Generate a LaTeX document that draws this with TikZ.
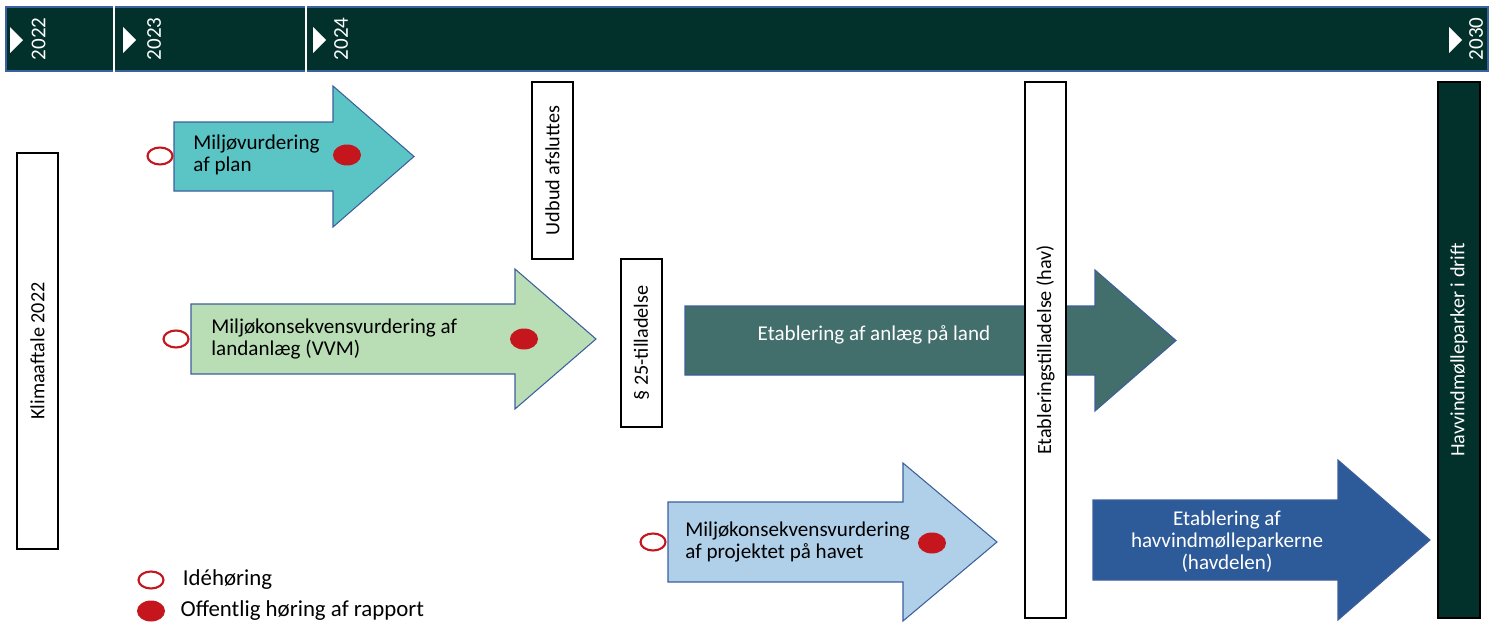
\documentclass[tikz,border=0pt]{standalone}
\usepackage{fontspec}
\setmainfont{Carlito}
\usetikzlibrary{%
	positioning,%
	shapes.geometric%
}

\definecolor{bargreen}{HTML}{02302A}
\definecolor{barblue}{HTML}{3A62A0}
\definecolor{arrowblue}{HTML}{3C5F9C}
\definecolor{planfill}{HTML}{5BC5C6}
\definecolor{vvmfill}{HTML}{B9DEB6}
\definecolor{landfill}{HTML}{426E6C}
\definecolor{havfill}{HTML}{B0D0E9}
\definecolor{havdelfill}{HTML}{2D5A98}
\definecolor{hred}{HTML}{C5161D}

\begin{document}
\begin{tikzpicture}[x=0.02cm,y=-0.02cm,
	yearbar/.style={draw=barblue, line width=0.6pt, fill=bargreen},
	yeartext/.style={text=white, rotate=90, inner sep=0, font=\fontsize{12}{12}\selectfont},
	milestone/.style={draw=black, line width=0.9pt, rotate=90, minimum height=0.82cm, inner sep=0, font=\fontsize{11.5}{12}\selectfont},
	blockarrow/.style={draw=arrowblue, line width=0.6pt},
	phasetext/.style={inner sep=0, align=left, font=\fontsize{12}{12.5}\selectfont},
	idea/.style={ellipse, draw=hred, line width=1.2pt, minimum width=0.5cm, minimum height=0.34cm, inner sep=0},
	hearing/.style={ellipse, fill=hred, minimum width=0.56cm, minimum height=0.42cm, inner sep=0},
	legendtext/.style={inner sep=0, font=\fontsize{13}{13}\selectfont}
]
	\useasboundingbox (0,0) rectangle (1499,622);
	
	% Year bar
	\draw[yearbar] (6,7) rectangle (1488,71);
	\foreach \xs in {114,306}
	\draw[white, line width=1.3pt] (\xs,6) -- (\xs,72);
	
	% Year markers
	\foreach \yr/\tx/\lx in {2022/10/38.5,2023/123/154,2024/313/341,2030/1449/1476}{
		\fill[white] (\tx,27) -- ({\tx+13},40) -- (\tx,53) -- cycle;
		\node[yeartext] (y\yr) at (\lx,39) {\yr};
	}
	
	% Phase arrows
	\foreach \xa/\ya/\yb/\xh/\ha/\xt/\col in {174/122/191/333/86/414/planfill,
		191/304/374/515/269/596/vvmfill,
		685/306/375/1095/270/1176/landfill,
		668/502/582/903/463/997/havfill,
		1093/500/580/1338/460/1430/havdelfill}
	\draw[blockarrow, fill=\col] (\xa,\ya) -- (\xh,\ya) -- (\xh,\ha) -- (\xt,{(\ya+\yb)/2})
		-- (\xh,{\ya+\yb-\ha}) -- (\xh,\yb) -- (\xa,\yb) -- cycle;
	
	% Phase texts
	\node[phasetext, anchor=west] (plan) at (193,155) {Miljøvurdering\\af plan};
	\node[phasetext, anchor=west] (vvm) at (211,339) {Miljøkonsekvensvurdering af\\landanlæg (VVM)};
	\node[phasetext, text=white] (land) at (874,335) {Etablering af anlæg på land};
	\node[phasetext, anchor=west] (havet) at (685,542) {Miljøkonsekvensvurdering\\af projektet på havet};
	\node[phasetext, text=white, align=center] (havdel) at (1227,542) {Etablering af\\havvindmølleparkerne\\(havdelen)};
	
	% Hearings
	\node[idea] (planidea) at (160,156) {};
	\node[hearing] (planhearing) at (347,155) {};
	\node[idea] (vvmidea) at (176,339) {};
	\node[hearing] (vvmhearing) at (524,339) {};
	\node[idea] (havetidea) at (653,542) {};
	\node[hearing] (havethearing) at (932,543) {};
	
	% Milestones
	\node[milestone, minimum width=7.92cm] (klima) at (37.5,351) {Klimaaftale 2022};
	\node[milestone, minimum width=3.54cm, fill=white] (udbud) at (552.5,170.5) {Udbud afsluttes};
	\node[milestone, minimum width=3.36cm, fill=white] (par25) at (641.5,343) {§ 25-tilladelse};
	\node[milestone, minimum width=10.72cm, fill=white] (etabl) at (1045.5,350) {Etableringstilladelse (hav)};
	\node[milestone, minimum width=10.72cm, minimum height=0.84cm, fill=bargreen, text=white] (drift) at (1459,350) {Havvindmølleparker i drift};
	
	% Legend
	\node[idea] (legidea) at (151,580) {};
	\node[legendtext, right=0.36cm of legidea] (legideatext) {Idéhøring};
	\node[hearing] (leghearing) at (151,611) {};
	\node[legendtext, right=0.3cm of leghearing] (leghearingtext) {Offentlig høring af rapport};
\end{tikzpicture}
\end{document}
